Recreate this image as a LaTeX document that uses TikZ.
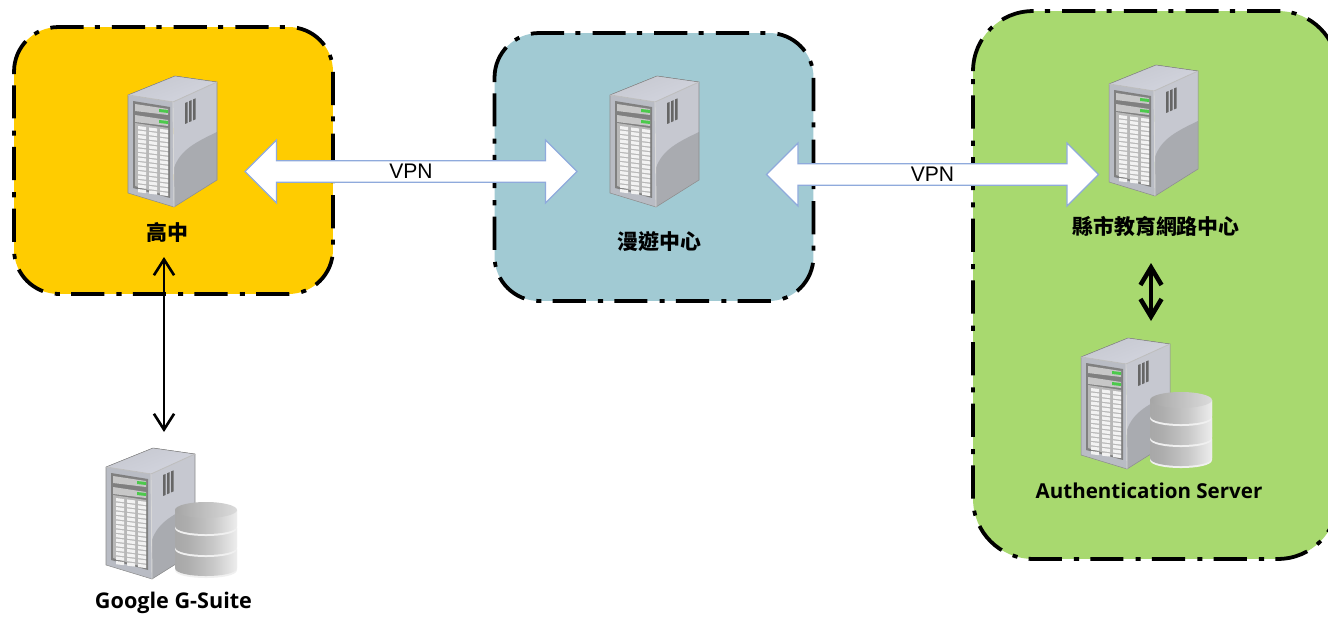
\documentclass[tikz,border=0pt]{standalone}
\usepackage{fontspec}
\usepackage{tikz}
\usetikzlibrary{arrows.meta,shapes.arrows}
\setmainfont{Open Sans}
\newfontfamily\cjkfont{Noto Sans CJK TC}
\newfontfamily\vpnfont{Liberation Sans}
\definecolor{schoolyellow}{HTML}{FFCC00}
\definecolor{roambluegray}{HTML}{A1CAD3}
\definecolor{countygreen}{HTML}{A8D96F}
\definecolor{vpnedge}{HTML}{8FAADC}
\definecolor{casetop}{HTML}{D3D5DF}
\definecolor{caseside}{HTML}{C6C8D0}
\definecolor{caselow}{HTML}{A9ABB0}
\definecolor{casefront}{HTML}{B9BCC4}
\pgfdeclarehorizontalshading{dbslab}{100bp}{color(0bp)=(black!40); color(35bp)=(black!32); color(55bp)=(black!22); color(75bp)=(black!7); color(100bp)=(black!22)}
% dashed outline of a region, clockwise from the left edge under its first corner
\newcommand{\regionedge}[2]{\draw[regionline,rounded corners=#2] ([yshift=-#2]#1.north west) -- (#1.north west) -- (#1.north east) -- (#1.south east) -- (#1.south west) -- ([yshift=-#2]#1.north west);}

\begin{document}
\begin{tikzpicture}[x=0.02cm,y=-0.02cm]
	\useasboundingbox (0,0) rectangle (1328,618);

	\tikzset{regionbox/.style={inner sep=0pt,outer sep=0pt,rounded corners=#1}}
	\tikzset{regionline/.style={draw=black,line width=2.15pt,dash pattern=on 18.9pt off 6.4pt on 2.9pt off 6.9pt}}
	\tikzset{serverslot/.style={anchor=north west,inner sep=0pt,outer sep=0pt,minimum width=1.78cm,minimum height=2.62cm}}
	\tikzset{vpnarrow/.style={double arrow,draw=vpnedge,fill=white,line width=0.65pt,inner sep=0pt,double arrow head extend=0.3cm,minimum width=1.26cm,minimum height=6.64cm,font=\vpnfont\fontsize{12}{14}\selectfont}}
	\tikzset{boxlabel/.style={inner sep=0pt,font=\cjkfont\bfseries\fontsize{11.9}{14}\selectfont}}
	\tikzset{namelabel/.style={inner sep=0pt,font=\bfseries\fontsize{#1}{14}\selectfont}}
	\tikzstyle{linkarrow}=[{Straight Barb[length=9pt,width=11.5pt]}-{Straight Barb[length=9pt,width=11.5pt]},line width=1.5pt]
	\tikzstyle{boldarrow}=[{Straight Barb[length=10pt,width=12pt]}-{Straight Barb[length=10pt,width=12pt]},line width=2.6pt]

	%% One server tower, origin at top left of its box
	\tikzset{pics/servericon/.style={code={
		\fill[left color=caseside,right color=casetop,shading angle=20] (0,19) -- (47,0) -- (89,6) -- (45,26) -- cycle;
		\fill[caseside] (45,26) -- (89,6) -- (89,104) -- (46,131) -- cycle;
		\fill[caselow] (46,92) .. controls (52,74) and (68,66) .. (89,56) -- (89,104) -- (46,131) -- cycle;
		\fill[casefront] (0,19) -- (45,26) -- (46,131) -- (0,117) -- cycle;
		\fill[black!50] (5,25) -- (42,31) -- (42,122) -- (5,112) -- cycle;
		\fill[black!22] (7,28) -- (40,33) -- (40,39) -- (7,35) -- cycle;
		\fill[black!22] (7,39) -- (40,44) -- (40,50) -- (7,46) -- cycle;
		\fill[green!70!black!70] (31,33) -- (40,34) -- (40,37) -- (31,36) -- cycle;
		\fill[green!70!black!70] (31,44) -- (40,45) -- (40,48) -- (31,47) -- cycle;
		\fill[black!28] (7,47) -- (40,52) -- (40,120) -- (7,110) -- cycle;
		\foreach \col in {10,21,32}
			\foreach \row in {0,...,14}
				\fill[black!5] (\col,{50+4.5*\row+0.13*(\col-10)}) -- ++(8,1) -- ++(0,3.2) -- ++(-8,-1) -- cycle;
		\foreach \vent in {57,61,65}
			\fill[black!60] (\vent,{27-0.45*(\vent-57)}) -- ++(2.5,-1) -- ++(0,21) -- ++(-2.5,1) -- cycle;
		\draw[black!45,line width=0.3pt] (0,19) -- (47,0) -- (89,6) -- (89,104) -- (46,131) -- (0,117) -- cycle;
		\draw[white!75!black,line width=0.5pt] (0,19) -- (45,26) -- (89,6);
		\draw[black!15,line width=0.5pt] (45,26) -- (46,131);
	}}}
	%% Three stacked disks beside a tower, same origin
	\tikzset{pics/dbstack/.style={code={
		\foreach \slabtop/\slabbot in {101/120,80/99,62/78} {
			\fill[black!6] (69,\slabtop) -- (69,\slabbot+2) .. controls (69,\slabbot+12.7) and (131,\slabbot+12.7) .. (131,\slabbot+2) -- (131,\slabtop) -- cycle;
			\shade[shading=dbslab] (69,\slabtop) -- (69,\slabbot) .. controls (69,\slabbot+10.7) and (131,\slabbot+10.7) .. (131,\slabbot) -- (131,\slabtop) -- cycle;
		}
		\shade[left color=black!35,right color=black!14] (100,62) ellipse [x radius=31,y radius=8];
	}}}

	%% Regions
	\node[regionbox=0.89cm,fill=schoolyellow,minimum width=6.38cm,minimum height=5.34cm] (regionSchool) at (173.5,160.5) {};
	\node[regionbox=0.89cm,fill=roambluegray,minimum width=6.38cm,minimum height=5.36cm] (regionRoam) at (654,167) {};
	\node[regionbox=1.2cm,fill=countygreen,minimum width=7.3cm,minimum height=10.96cm] (regionCounty) at (1155.5,285) {};
	\regionedge{regionSchool}{0.89cm}
	\regionedge{regionRoam}{0.89cm}
	\regionedge{regionCounty}{1.2cm}

	%% Servers
	\node[serverslot] (srvSchool) at (128,76) {};
	\node[serverslot] (srvRoam) at (610,76) {};
	\node[serverslot] (srvCounty) at (1109,65) {};
	\node[serverslot] (srvAuth) at (1081,338) {};
	\node[serverslot] (srvGoogle) at (106,448) {};
	\pic at (srvSchool.north west) {servericon};
	\pic at (srvRoam.north west) {servericon};
	\pic at (srvCounty.north west) {servericon};
	\pic at (srvAuth.north west) {servericon};
	\pic at (srvAuth.north west) {dbstack};
	\pic at (srvGoogle.north west) {servericon};
	\pic at (srvGoogle.north west) {dbstack};

	%% Labels
	\node[boxlabel] (lblSchool) at (167.5,232.5) {高中};
	\node[boxlabel] (lblRoam) at (659.5,241.5) {漫遊中心};
	\node[boxlabel] (lblCounty) at (1156,226.5) {縣市教育網路中心};
	\node[namelabel=11.7] (lblAuth) at (1149,491) {Authentication Server};
	\node[namelabel=12.3] (lblGoogle) at (173.5,602.5) {Google G-Suite};

	%% VPN tunnels
	\node[vpnarrow] (vpnLeft) at (411,171.5) {\raisebox{-1.2pt}{VPN}};
	\node[vpnarrow] (vpnRight) at (932.5,174.5) {\raisebox{-1.2pt}{VPN}};

	\coordinate (linkTop) at (164,257);
	\coordinate (linkBot) at (linkTop |- srvGoogle.north);
	\draw[linkarrow] (linkTop) -- ([yshift=0.32cm]linkBot);
	\coordinate (authTop) at (1151,263);
	\draw[boldarrow] (authTop) -- ([yshift=0.34cm]authTop |- srvAuth.north);
\end{tikzpicture}
\end{document}
